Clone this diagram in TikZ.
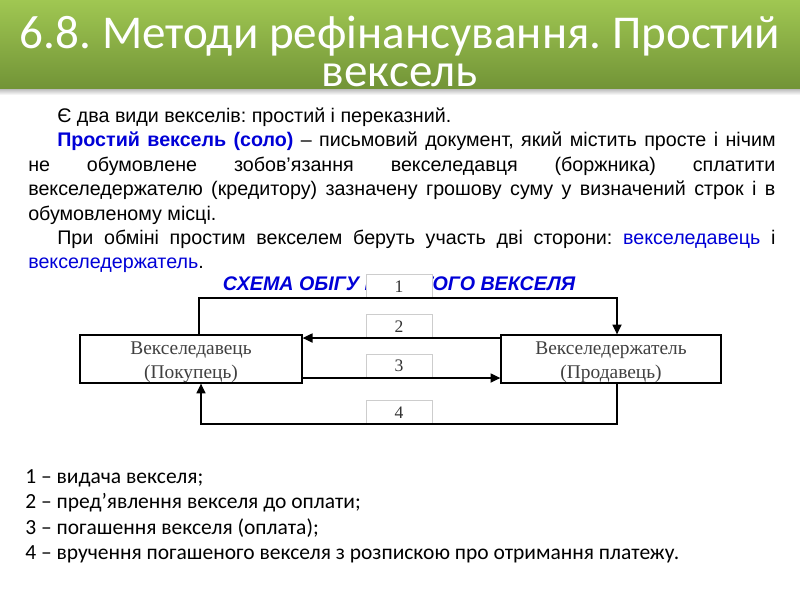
\documentclass[tikz,border=0pt]{standalone}
\usepackage{fontspec}
\setmainfont{Liberation Sans}
\newfontfamily\calib{Carlito}
\newfontfamily\tms{Liberation Serif}
\usetikzlibrary{arrows.meta,positioning,calc}
\definecolor{ZelenVerh}{RGB}{160,199,82}
\definecolor{ZelenNyz}{RGB}{114,148,55}
\definecolor{SynTekst}{RGB}{0,0,215}
\definecolor{SiraRamka}{RGB}{205,205,205}
\frenchspacing
\newcommand{\syn}[1]{\textcolor{SynTekst}{#1}}
\newcommand{\vnyz}{\rule{0pt}{13.6pt}}% opuskaye pershyi ryadok u ramtsi
\tikzset{
  ryadok/.style  = {anchor=base west, inner sep=0pt, font=\fontsize{14}{16}\selectfont},
  legenda/.style = {anchor=base west, inner sep=0pt, font=\calib\fontsize{15.3}{18}\selectfont},
  storona/.style = {draw, line width=0.9pt, align=center, inner sep=0pt,
                    font=\tms\fontsize{13.8}{17}\selectfont, text=black!75},
  nomer/.style   = {draw=SiraRamka, fill=white, anchor=south, inner sep=0pt,
                    minimum width=1.65cm, minimum height=0.575cm,
                    font=\tms\fontsize{12.5}{14}\selectfont, text=black!80},
  strilka/.style = {-{Triangle[length=7pt,width=6.5pt]}, line width=0.9pt},
}

\begin{document}
\begin{tikzpicture}[x=0.025cm, y=-0.025cm]
  \useasboundingbox (0,0) rectangle (800,600);
  % shapka
  \shade[top color=black!30, bottom color=white] (0,88) rectangle (800,95);
  \shade[top color=ZelenVerh, bottom color=ZelenNyz] (0,0) rectangle (800,88);
  \node[text=white, align=center, font=\calib\fontsize{33.5}{27}\selectfont] (zagol) at (400,51)
    {6.8. Методи рефінансування. Простий\\вексель};

  % tekst
  \node[ryadok] (t1) at (57,122.5) {Є два види векселів: простий і переказний.};
  \node[ryadok] (t2) at (57,146.9) {\makebox[17.95cm][s]{\syn{\bfseries Простий вексель (соло)} – письмовий документ, який містить просте і нічим}};
  \node[ryadok] (t3) at (28,171.3) {\makebox[18.675cm][s]{не обумовлене зобов’язання векселедавця (боржника) сплатити}};
  \node[ryadok] (t4) at (28,195.7) {\makebox[18.675cm][s]{векселедержателю (кредитору) зазначену грошову суму у визначений строк і в}};
  \node[ryadok] (t5) at (28,220.1) {обумовленому місці.};
  \node[ryadok] (t6) at (57,244.5) {\makebox[17.95cm][s]{При обміні простим векселем беруть участь дві сторони: \syn{векселедавець} і}};
  \node[ryadok] (t7) at (28,268.9) {\syn{векселедержатель}.};
  \node[font=\bfseries\itshape\fontsize{14}{16}\selectfont, text=SynTekst, inner sep=0pt] (shema) at (399,284)
    {СХЕМА ОБІГУ ПРОСТОГО ВЕКСЕЛЯ};

  % skhema
  \node[storona, minimum width=5.55cm, minimum height=1.2cm] (vd) at (191,359) {\vnyz Векселедавець\\(Покупець)};
  \node[storona, minimum width=5.5cm, minimum height=1.2cm] (vh) at (611,359) {\vnyz Векселедержатель\\(Продавець)};
  \coordinate (k1) at (199,298);
  \coordinate (k2) at (617,298);
  \coordinate (k3) at (617,424);
  \coordinate (k4) at (201,424);
  \node[nomer] (n1) at (399,298) {1};
  \node[nomer] (n2) at (399,338) {2};
  \node[nomer] (n3) at (399,378) {3};
  \node[nomer] (n4) at (399,424) {4};
  \draw[strilka] (vd.north -| k1) -- (k1) -- (k2) -- (vh.north -| k2);
  \draw[strilka] (vh.west |- n2.south) -- (vd.east |- n2.south);
  \draw[strilka] (vd.east |- n3.south) -- (vh.west |- n3.south);
  \draw[strilka] (vh.south -| k3) -- (k3) -- (k4) -- (vd.south -| k4);

  % legenda
  \node[legenda] (p1) at (25,483) {1 – видача векселя;};
  \node[legenda] (p2) at (25,508.5) {2 – пред’явлення векселя до оплати;};
  \node[legenda] (p3) at (25,534) {3 – погашення векселя (оплата);};
  \node[legenda] (p4) at (25,559.5) {4 – вручення погашеного векселя з розпискою про отримання платежу.};
\end{tikzpicture}
\end{document}
